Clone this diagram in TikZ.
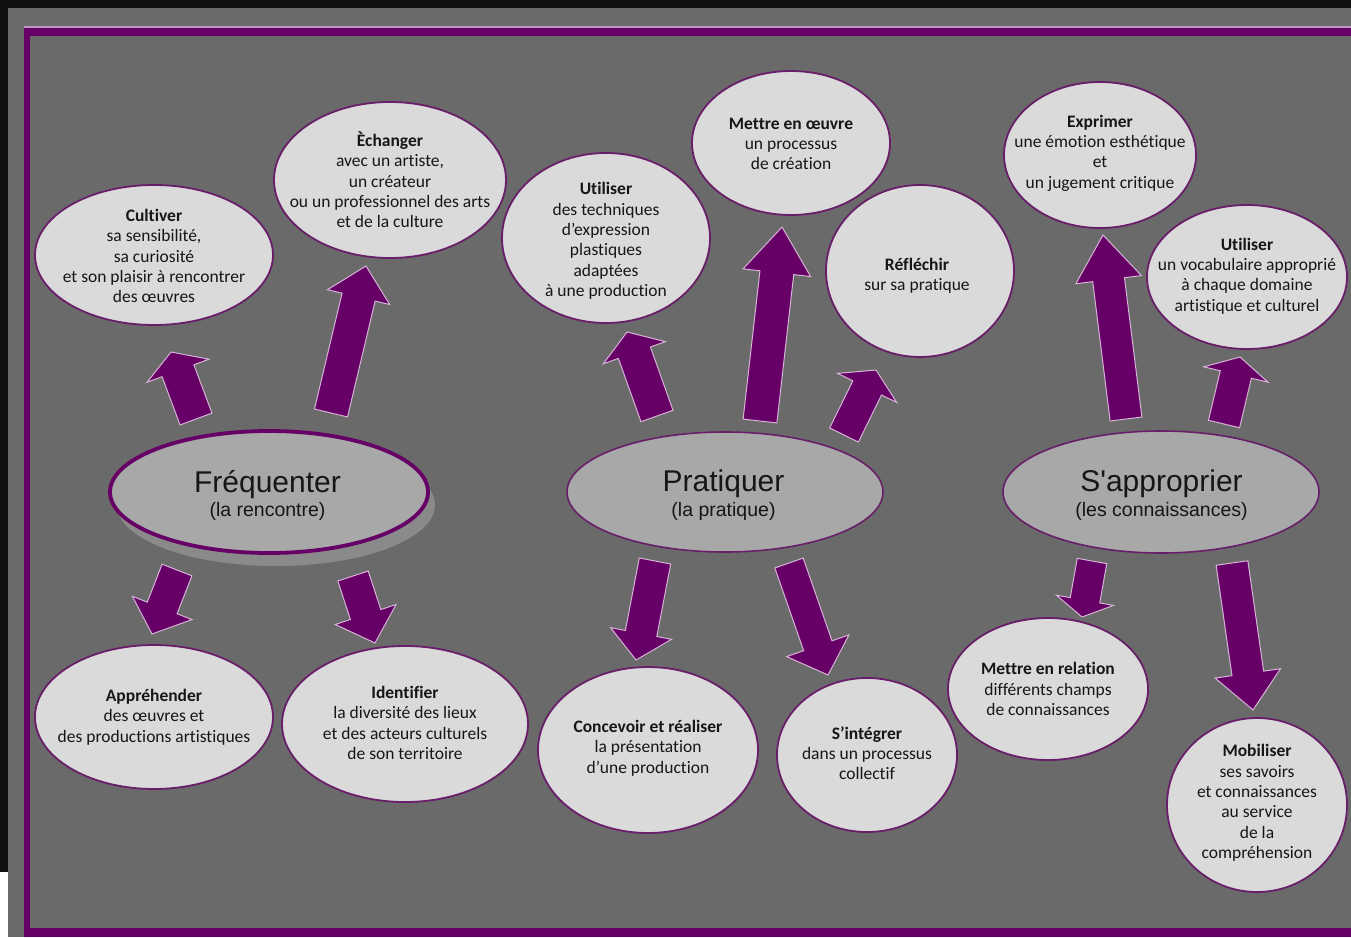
\documentclass[tikz,border=0pt]{standalone}
\usepackage{fontspec}
\setmainfont{Carlito}[Ligatures={TeX,NoCommon}]
\newfontfamily\lib[Ligatures=TeXOff]{Liberation Sans}
\usetikzlibrary{shapes.geometric,calc}
\definecolor{bgc}{RGB}{106,106,106}
\definecolor{darkc}{RGB}{17,17,17}
\definecolor{fpurple}{RGB}{102,0,102}
\definecolor{pinkl}{RGB}{190,150,190}
\definecolor{apurple}{RGB}{102,0,102}
\definecolor{aline}{RGB}{215,180,215}
\definecolor{efill}{RGB}{218,218,218}
\definecolor{eline}{RGB}{105,30,105}
\definecolor{cfill}{RGB}{168,168,168}
\definecolor{shadc}{RGB}{138,138,138}
\definecolor{tcol}{RGB}{22,22,22}
\tikzset{
  bub/.style 2 args={ellipse, draw=eline, line width=1.8pt, fill=efill,
    minimum width=#1, minimum height=#2, inner sep=0pt},
  cbub/.style 2 args={ellipse, draw=eline, line width=1.6pt, fill=cfill,
    minimum width=#1, minimum height=#2, inner sep=0pt},
  lbl/.style={align=center, inner sep=0pt, text=tcol,
    font=\fontsize{17.5}{20.3}\selectfont},
  ctitle/.style={anchor=base, inner sep=0pt, text=tcol, font=\lib\fontsize{30}{32}\selectfont},
  csub/.style={anchor=base, inner sep=0pt, text=tcol, font=\lib\fontsize{19.5}{22}\selectfont},
  arrowfill/.style={fill=apurple, draw=aline, line width=1pt, line join=miter},
}
\newcommand\blockarrow[5]{%
  \coordinate (bkneck) at ($(#2)!#5!(#1)$);
  \filldraw[arrowfill] ($(#1)!#3!90:(#2)$) -- ($(bkneck)!#3!90:(#2)$)
    -- ($(bkneck)!#4!90:(#2)$) -- (#2) -- ($(bkneck)!#4!-90:(#2)$)
    -- ($(bkneck)!#3!-90:(#2)$) -- ($(#1)!#3!-90:(#2)$) -- cycle;}
\begin{document}
\begin{tikzpicture}[x=1pt,y=-1pt]
\useasboundingbox (0,0) rectangle (1351,937);
% background and frame
\fill[bgc] (0,0) rectangle (1351,937);
\fill[darkc] (0,0) rectangle (1351,8);
\fill[darkc] (0,0) rectangle (8,872);
\fill[white] (0,872) rectangle (8,937);
\draw[pinkl, line width=1.2pt] (24,27) -- (1351,27);
\fill[fpurple] (24,28) rectangle (1351,35.5);
\fill[fpurple] (24,28) rectangle (30,937);
\fill[fpurple] (24,928) rectangle (1351,937);

% central ellipses
\node[ellipse, fill=shadc, minimum width=318, minimum height=122, inner sep=0pt] (freq-sh) at (276,505) {};
\node[cbub={318}{122}, line width=3.8pt, draw=fpurple] (freq) at (269,492) {};
\node[cbub={316}{120}] (prat) at (725,492) {};
\node[cbub={316}{122}] (appr) at (1161,492) {};
\node[ctitle] (freq-t) at (267.5,492) {Fréquenter};
\node[csub] (freq-s) at (267.5,516) {(la rencontre)};
\node[ctitle] (prat-t) at (723.5,491) {Pratiquer};
\node[csub] (prat-s) at (723.5,516) {(la pratique)};
\node[ctitle] (appr-t) at (1161.5,491) {S'approprier};
\node[csub] (appr-s) at (1161.5,516) {(les connaissances)};

% outer ellipses
\node[bub={238}{140}] (cult) at (154,255) {};
\node[bub={232}{156}] (ech) at (390,180) {};
\node[bub={208}{170}] (util) at (606,238) {};
\node[bub={198}{144}] (meo) at (791,143) {};
\node[bub={188}{172}] (refl) at (920,271) {};
\node[bub={192}{146}] (expr) at (1100,155) {};
\node[bub={200}{144}] (voc) at (1247,277) {};
\node[bub={238}{144}] (apph) at (154,717) {};
\node[bub={246}{156}] (iden) at (405,724) {};
\node[bub={220}{166}] (conc) at (648,750) {};
\node[bub={180}{154}] (integ) at (867,755) {};
\node[bub={200}{142}] (rel) at (1048,689) {};
\node[bub={180}{174}] (mob) at (1257,805) {};

\node[lbl] (cult-t) at ($(cult)+(0,1)$) {\textbf{Cultiver}\\sa sensibilité,\\sa curiosité\\et son plaisir à rencontrer\\des œuvres};
\node[lbl] (ech-t) at (ech) {\textbf{Èchanger}\\avec un artiste,\\un créateur\\ou un professionnel des arts\\et de la culture};
\node[lbl] (util-t) at ($(util)+(0,3)$) {\textbf{Utiliser}\\des techniques\\d’expression\\plastiques\\adaptées\\à une production};
\node[lbl] (meo-t) at ($(meo)+(0,1)$) {\textbf{Mettre en œuvre}\\un processus\\de création};
\node[lbl] (refl-t) at ($(refl)+(-3,5)$) {\textbf{Réfléchir}\\sur sa pratique};
\node[lbl] (expr-t) at ($(expr)+(0,-2)$) {\textbf{Exprimer}\\une émotion esthétique\\et\\un jugement critique};
\node[lbl] (voc-t) at ($(voc)+(0,-1)$) {\textbf{Utiliser}\\un vocabulaire approprié\\à chaque domaine\\artistique et culturel};
\node[lbl] (apph-t) at (apph) {\textbf{Appréhender}\\des œuvres et\\des productions artistiques};
\node[lbl] (iden-t) at ($(iden)+(0,-1)$) {\textbf{Identifier}\\la diversité des lieux\\et des acteurs culturels\\de son territoire};
\node[lbl] (conc-t) at ($(conc)+(0,-2)$) {\textbf{Concevoir et réaliser}\\la présentation\\d’une production};
\node[lbl] (integ-t) at ($(integ)+(0,-2)$) {\textbf{S’intégrer}\\dans un processus\\collectif};
\node[lbl] (rel-t) at (rel) {\textbf{Mettre en relation}\\différents champs\\de connaissances};
\node[lbl] (mob-t) at ($(mob)+(0,-2)$) {\textbf{Mobiliser}\\ses savoirs\\et connaissances\\au service\\de la\\compréhension};

% arrow end points
\coordinate (a1t) at (196,419);  \coordinate (a1h) at (171,352);
\coordinate (a2t) at (331,413);  \coordinate (a2h) at (366,266);
\coordinate (a3t) at (177,570);  \coordinate (a3h) at (152,634);
\coordinate (a4t) at (353,576);  \coordinate (a4h) at (375,643);
\coordinate (a5t) at (657,416);  \coordinate (a5h) at (627,332);
\coordinate (a6t) at (760,421);  \coordinate (a6h) at (782,227);
\coordinate (a7t) at (844,435);  \coordinate (a7h) at (876,370);
\coordinate (a8t) at (655,561);  \coordinate (a8h) at (636,660);
\coordinate (a9t) at (789,563);  \coordinate (a9h) at (828,675);
\coordinate (a10t) at (1126,419); \coordinate (a10h) at (1103,235);
\coordinate (a11t) at (1224,424); \coordinate (a11h) at (1240,357);
\coordinate (a12t) at (1092,561); \coordinate (a12h) at (1082,617);
\coordinate (a13t) at (1232,563); \coordinate (a13h) at (1253,710);

\blockarrow{a1t}{a1h}{17pt}{33pt}{20pt}
\blockarrow{a2t}{a2h}{17pt}{32pt}{32pt}
\blockarrow{a3t}{a3h}{16pt}{32pt}{28pt}
\blockarrow{a4t}{a4h}{16pt}{32pt}{30pt}
\blockarrow{a5t}{a5h}{17pt}{33pt}{22pt}
\blockarrow{a6t}{a6h}{17pt}{34pt}{46pt}
\blockarrow{a7t}{a7h}{16pt}{33pt}{20pt}
\blockarrow{a8t}{a8h}{16pt}{31pt}{27pt}
\blockarrow{a9t}{a9h}{15pt}{33pt}{31pt}
\blockarrow{a10t}{a10h}{16pt}{33pt}{45pt}
\blockarrow{a11t}{a11h}{16pt}{33pt}{18pt}
\blockarrow{a12t}{a12h}{15pt}{29pt}{17pt}
\blockarrow{a13t}{a13h}{16pt}{33pt}{37pt}
\end{tikzpicture}
\end{document}
